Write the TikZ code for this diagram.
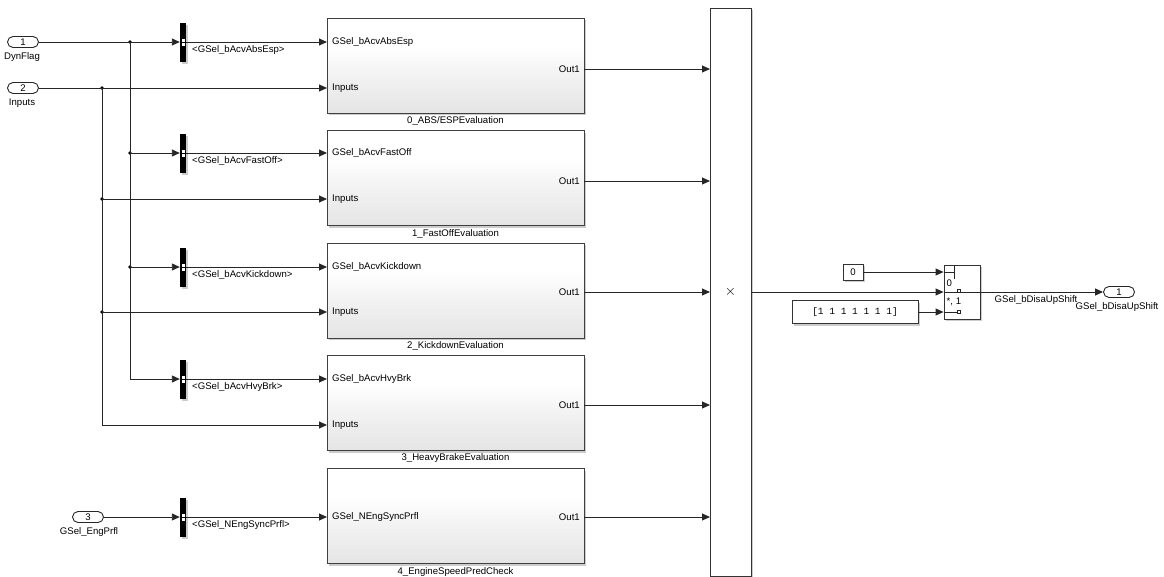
\documentclass[tikz,border=0pt]{standalone}
\usepackage{fontspec}
\setmainfont{Liberation Sans}
\newfontfamily\monofont{Liberation Mono}
\usetikzlibrary{arrows.meta,shadows}

% soft grey at the bottom of subsystem blocks, white in the upper half
\pgfdeclareverticalshading{subsysshade}{100bp}{color(0bp)=(black!17); color(45bp)=(black!5); color(60bp)=(white); color(100bp)=(white)}

\begin{document}
\begin{tikzpicture}[x=1pt,y=-1pt,
  wire/.style={draw=black!85, line width=0.9pt},
  sig/.style={wire, -{Triangle[length=8pt,width=7pt]}},
  txt/.style={font=\fontsize{9.6}{11}\selectfont, inner sep=0pt},
  shadowed/.style={drop shadow={shadow xshift=2pt, shadow yshift=-2pt, fill=black!40, opacity=0.5}},
  ioport/.style={draw=black!85, line width=0.9pt, rounded corners=5.5pt, fill=white,
    minimum width=31pt, minimum height=11pt, inner sep=0pt, font=\fontsize{9.6}{11}\selectfont},
  subsys/.style={draw=black!75, line width=0.9pt, shading=subsysshade, shadowed,
    minimum width=257pt, minimum height=95pt, inner sep=0pt},
  busbar/.style={fill=black, minimum width=6pt, minimum height=39pt, inner sep=0pt, shadowed,
    path picture={
      \fill[white] ([xshift=-1.5pt,yshift=-3.5pt]path picture bounding box.center)
        rectangle ([xshift=1.5pt,yshift=3pt]path picture bounding box.center);
      \draw[black, line width=0.6pt] ([xshift=-1.5pt]path picture bounding box.center)
        -- ([xshift=1.5pt]path picture bounding box.center);}},
  junction/.style={circle, fill=black, inner sep=0pt, minimum size=3.6pt},
  plainbox/.style={draw=black!80, line width=0.9pt, fill=white, shadowed, inner sep=0pt},
  marker/.style={draw=black!85, line width=0.7pt, fill=white, minimum width=3pt, minimum height=3pt, inner sep=0pt},
]
\useasboundingbox (0,0) rectangle (1164,576);

% ---- inports ----
\node[ioport] (in1) at (23,42) {1};
\node[txt] (in1l) at (22,57) {DynFlag};
\node[ioport] (in2) at (23,88) {2};
\node[txt] (in2l) at (22,103) {Inputs};
\node[ioport] (in3) at (88,517) {3};
\node[txt] (in3l) at (89,532) {GSel\_EngPrfl};

% ---- bus selectors ----
\node[busbar] (sel0) at (183,42) {};
\node[busbar] (sel1) at (183,153) {};
\node[busbar] (sel2) at (183,267) {};
\node[busbar] (sel3) at (183,379) {};
\node[busbar] (sel4) at (183,517) {};
\node[txt, anchor=west] (sel0l) at (192,50) {<GSel\_bAcvAbsEsp>};
\node[txt, anchor=west] (sel1l) at (192,161) {<GSel\_bAcvFastOff>};
\node[txt, anchor=west] (sel2l) at (192,275) {<GSel\_bAcvKickdown>};
\node[txt, anchor=west] (sel3l) at (192,387) {<GSel\_bAcvHvyBrk>};
\node[txt, anchor=west] (sel4l) at (192,525) {<GSel\_NEngSyncPrfl>};

% ---- subsystems ----
\node[subsys] (b0) at (455.5,65.5) {};
\node[subsys] (b1) at (455.5,178) {};
\node[subsys] (b2) at (455.5,290.5) {};
\node[subsys] (b3) at (455.5,403) {};
\node[subsys] (b4) at (455.5,516) {};

\node[txt] (b0t) at (455.5,121) {0\_ABS/ESPEvaluation};
\node[txt] (b1t) at (455.5,234) {1\_FastOffEvaluation};
\node[txt] (b2t) at (455.5,346) {2\_KickdownEvaluation};
\node[txt] (b3t) at (455.5,458.5) {3\_HeavyBrakeEvaluation};
\node[txt] (b4t) at (455.5,572) {4\_EngineSpeedPredCheck};

% port positions on the subsystems
\coordinate (b0g) at (327,42);  \coordinate (b0i) at (327,88);  \coordinate (b0o) at (584,69);
\coordinate (b1g) at (327,153); \coordinate (b1i) at (327,199); \coordinate (b1o) at (584,181);
\coordinate (b2g) at (327,267); \coordinate (b2i) at (327,312); \coordinate (b2o) at (584,292);
\coordinate (b3g) at (327,379); \coordinate (b3i) at (327,425); \coordinate (b3o) at (584,405);
\coordinate (b4g) at (327,517); \coordinate (b4o) at (584,517);

\node[txt, anchor=west] at (332,42) {GSel\_bAcvAbsEsp};
\node[txt, anchor=west] at (332,88) {Inputs};
\node[txt, anchor=east] at (580,69) {Out1};
\node[txt, anchor=west] at (332,153) {GSel\_bAcvFastOff};
\node[txt, anchor=west] at (332,199) {Inputs};
\node[txt, anchor=east] at (580,181) {Out1};
\node[txt, anchor=west] at (332,267) {GSel\_bAcvKickdown};
\node[txt, anchor=west] at (332,312) {Inputs};
\node[txt, anchor=east] at (580,292) {Out1};
\node[txt, anchor=west] at (332,379) {GSel\_bAcvHvyBrk};
\node[txt, anchor=west] at (332,425) {Inputs};
\node[txt, anchor=east] at (580,405) {Out1};
\node[txt, anchor=west] at (332,517) {GSel\_NEngSyncPrfl};
\node[txt, anchor=east] at (580,517) {Out1};

% ---- product ----
\node[plainbox, minimum width=41pt, minimum height=568pt] (prod) at (730.5,292) {};
\node[font=\fontsize{15}{16}\selectfont, inner sep=0pt] (prodsym) at (730.5,292) {$\times$};
\coordinate (p0) at (710,69);
\coordinate (p1) at (710,181);
\coordinate (p2) at (710,292);
\coordinate (p3) at (710,405);
\coordinate (p4) at (710,517);

% ---- constants and switch ----
\node[plainbox, minimum width=20pt, minimum height=16pt, font=\fontsize{9.6}{11}\selectfont] (c0) at (853,272) {0};
\node[plainbox, minimum width=126pt, minimum height=23pt, font=\monofont\fontsize{9.5}{11}\selectfont] (cv) at (855,312) {[1 1 1 1 1 1 1]};
\node[plainbox, minimum width=36pt, minimum height=54pt] (sw) at (962,292) {};
\node[txt, anchor=west] at (946.5,283) {0};
\node[txt, anchor=west] at (946.5,302) {*, 1};

% switch icon
\draw[wire] ([yshift=20pt]sw.west) -- ++(11,0);
\draw[wire] ([xshift=11pt,yshift=27pt]sw.west) -- ++(0,14);
\draw[wire] (sw.west) -- (sw.east);
\draw[wire] (cv.east -| sw.west) -- ++(15,0);
\node[marker] (m1) at (959,291) {};
\node[marker] (m2) at (959,312) {};

% ---- outport ----
\node[ioport] (out1) at (1119,292) {1};
\node[txt] (out1l) at (1117,307) {GSel\_bDisaUpShift};
\node[txt] (swsig) at (1036,300) {GSel\_bDisaUpShift};

% ---- junctions ----
\node[junction] (j1a) at (130,42) {};
\node[junction] (j1b) at (130,153) {};
\node[junction] (j1c) at (130,267) {};
\coordinate (j1d) at (130,379);
\node[junction] (j2a) at (102,88) {};
\node[junction] (j2b) at (102,199) {};
\node[junction] (j2c) at (102,312) {};
\coordinate (j2d) at (102,425);

% ---- signal lines ----
\draw[sig] (in1.east) -- (sel0.west);
\draw[wire] (j1a.center) -- (j1d);
\draw[sig] (j1b.center) -- (sel1.west);
\draw[sig] (j1c.center) -- (sel2.west);
\draw[sig] (j1d) -- (sel3.west);
\draw[sig] (in3.east) -- (sel4.west);

\draw[sig] (in2.east) -- (b0i);
\draw[wire] (j2a.center) -- (j2d);
\draw[sig] (j2b.center) -- (b1i);
\draw[sig] (j2c.center) -- (b2i);
\draw[sig] (j2d) -- (b3i);

\draw[sig] (sel0.east) -- (b0g);
\draw[sig] (sel1.east) -- (b1g);
\draw[sig] (sel2.east) -- (b2g);
\draw[sig] (sel3.east) -- (b3g);
\draw[sig] (sel4.east) -- (b4g);

\draw[sig] (b0o) -- (p0);
\draw[sig] (b1o) -- (p1);
\draw[sig] (b2o) -- (p2);
\draw[sig] (b3o) -- (p3);
\draw[sig] (b4o) -- (p4);

\draw[sig] (prod.east) -- (sw.west);
\draw[sig] (c0.east) -- (c0.east -| sw.west);
\draw[sig] (cv.east) -- (cv.east -| sw.west);
\draw[sig] (sw.east) -- (out1.west);
\end{tikzpicture}
\end{document}
